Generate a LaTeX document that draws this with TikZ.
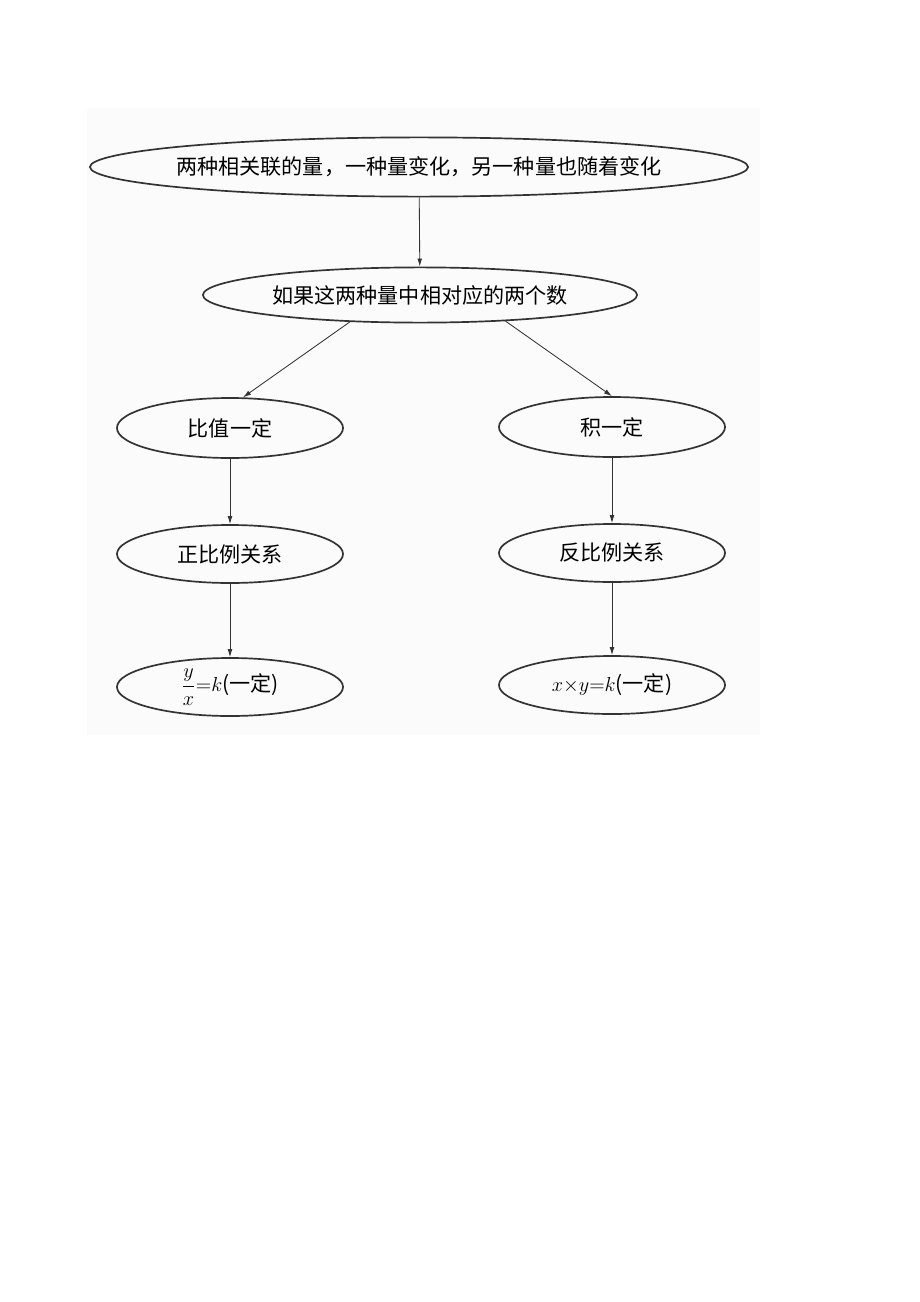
\documentclass[tikz,border=0pt]{standalone}
\usepackage{fontspec}
\usepackage{amsmath}
\newfontfamily\cjk{Noto Sans CJK SC}
\usepackage{tikz}
\usetikzlibrary{arrows.meta,shapes.geometric,positioning}
\definecolor{inkgray}{HTML}{333333}
\definecolor{paper}{HTML}{FBFBFB}
\tikzset{
    oval/.style={draw=inkgray, line width=1.2pt, ellipse, inner sep=0pt,
                 minimum width=#1, font=\cjk\fontsize{15}{18}\selectfont},
    oval/.default=5.65cm,
    flow/.style={-{Latex[length=2mm, width=1.2mm]}, line width=0.6pt, inkgray}
}

\begin{document}
\begin{tikzpicture}[x=0.025cm, y=-0.025cm]
                    \useasboundingbox (0,0) rectangle (920,1302);
                    \fill[paper] (87,108) rectangle (760,735);

                    \node[oval=16.45cm, minimum height=1.48cm] (top) at (419,167)
                        {\makebox[0pt]{两种相关联的量，一种量变化，另一种量也随着变化}};
                    \node[oval=10.85cm, minimum height=1.38cm] (cond) at (420,295)
                        {如果这两种量中相对应的两个数};

                    \node[oval, minimum height=1.5cm] (ratio) at (230,428) {比值一定};
                    \node[oval, minimum height=1.5cm] (prod) at (612,427) {积一定};
                    \node[oval, minimum height=1.45cm] (direct) at (230,554) {正比例关系};
                    \node[oval, minimum height=1.45cm] (inverse) at (612,553) {反比例关系};
                    \node[oval, minimum height=1.45cm] (fdirect) at (230,687)
                        {$\dfrac{y}{x}{=}k$(一定)};
                    \node[oval, minimum height=1.45cm] (finverse) at (612,685)
                        {$x{\times}y{=}k$(一定)};

                    \draw[flow] (top) -- (cond);
                    \draw[flow] (cond.201) -- (ratio.67);
                    \draw[flow] (cond.343) -- (prod.north);
                    \draw[flow] (ratio) -- (direct);
                    \draw[flow] (prod) -- (inverse);
                    \draw[flow] (direct) -- (fdirect);
                    \draw[flow] (inverse) -- (finverse);
                \end{tikzpicture}
\end{document}
